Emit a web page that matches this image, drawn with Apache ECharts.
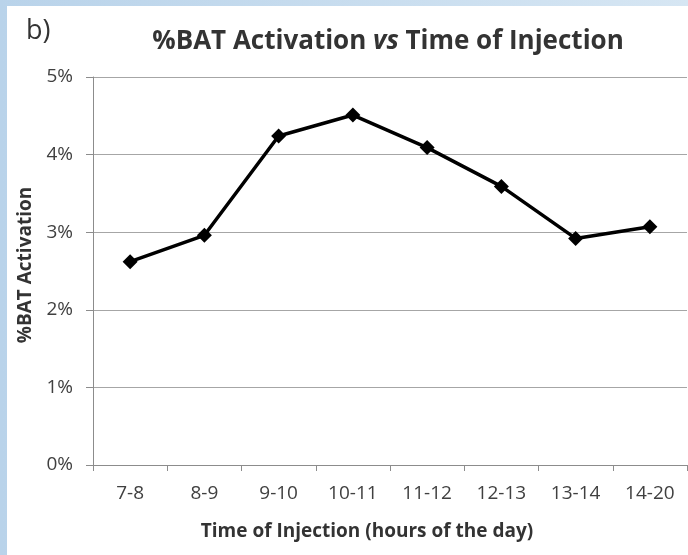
<!DOCTYPE html>
<html>
<head>
<meta charset="utf-8">
<script src="https://cdn.jsdelivr.net/npm/echarts@6/dist/echarts.min.js"></script>
<style>
    html, body {
        margin: 0;
        padding: 0;
        width: 688px;
        height: 555px;
        overflow: hidden;
        background: linear-gradient(90deg, #b9d3ea 0%, #d6e6f3 100%);
    }
    .panel {
        position: absolute;
        left: 7px;
        top: 6px;
        width: 681px;
        height: 549px;
        background: #fff;
    }
    #main {
        position: absolute;
        left: 0;
        top: 0;
        width: 688px;
        height: 555px;
    }
</style>
</head>
<body>
<div class="panel"></div>
<div id="main"></div>
<script>
// categories (x axis) and %BAT activation values
const timeSlots = ['7-8', '8-9', '9-10', '10-11', '11-12', '12-13', '13-14', '14-20'];
const batActivation = [2.62, 2.96, 4.24, 4.51, 4.09, 3.59, 2.92, 3.07];
const yTicks = [0, 1, 2, 3, 4, 5];

const chart = echarts.init(document.getElementById('main'));

const option = {
    backgroundColor: 'transparent',
    textStyle: {
        fontFamily: 'Open Sans'
    },
    title: [
        {
            text: '%BAT Activation {i|vs} Time of Injection',
            left: 383,
            top: 24,
            textAlign: 'center',
            textStyle: {
                fontSize: 26,
                fontWeight: 'bold',
                color: '#333',
                rich: {
                    i: {
                        fontSize: 26,
                        fontWeight: 'bold',
                        fontStyle: 'italic',
                        color: '#333'
                    }
                }
            }
        },
        {
            text: 'b)',
            left: 21,
            top: 13,
            textStyle: {
                fontSize: 27,
                fontWeight: 'normal',
                color: '#333'
            }
        },
        {
            text: 'Time of Injection (hours of the day)',
            left: 362,
            top: 517,
            textAlign: 'center',
            textStyle: {
                fontSize: 19,
                fontWeight: 'bold',
                color: '#333'
            }
        }
    ],
    grid: {
        left: 93,
        right: 1,
        top: 77,
        bottom: 90
    },
    xAxis: {
        type: 'category',
        data: timeSlots,
        boundaryGap: true,
        axisLine: {
            lineStyle: { color: '#8c8c8c', width: 1 }
        },
        axisTick: {
            show: true,
            length: 6,
            lineStyle: { color: '#8c8c8c' }
        },
        axisLabel: {
            fontSize: 19,
            color: '#404040',
            margin: 19
        }
    },
    yAxis: {
        type: 'value',
        min: yTicks[0],
        max: yTicks[yTicks.length - 1],
        interval: 1,
        name: '%BAT Activation',
        nameLocation: 'middle',
        nameGap: 58,
        nameTextStyle: {
            fontSize: 19,
            fontWeight: 'bold',
            color: '#333',
            padding: [0, 0, 0, 12]
        },
        axisLine: {
            show: true,
            lineStyle: { color: '#8c8c8c', width: 1 }
        },
        axisTick: {
            show: true,
            length: 7,
            lineStyle: { color: '#8c8c8c' }
        },
        axisLabel: {
            fontSize: 19,
            color: '#404040',
            margin: 20,
            formatter: v => v + '%'
        },
        splitLine: {
            lineStyle: { color: '#a6a6a6', width: 1 }
        }
    },
    series: [
        {
            name: '%BAT Activation',
            type: 'line',
            data: batActivation,
            symbol: 'diamond',
            symbolSize: 15,
            itemStyle: { color: '#000' },
            lineStyle: { color: '#000', width: 3.5 },
            animation: false
        }
    ]
};

chart.setOption(option);
</script>
</body>
</html>
